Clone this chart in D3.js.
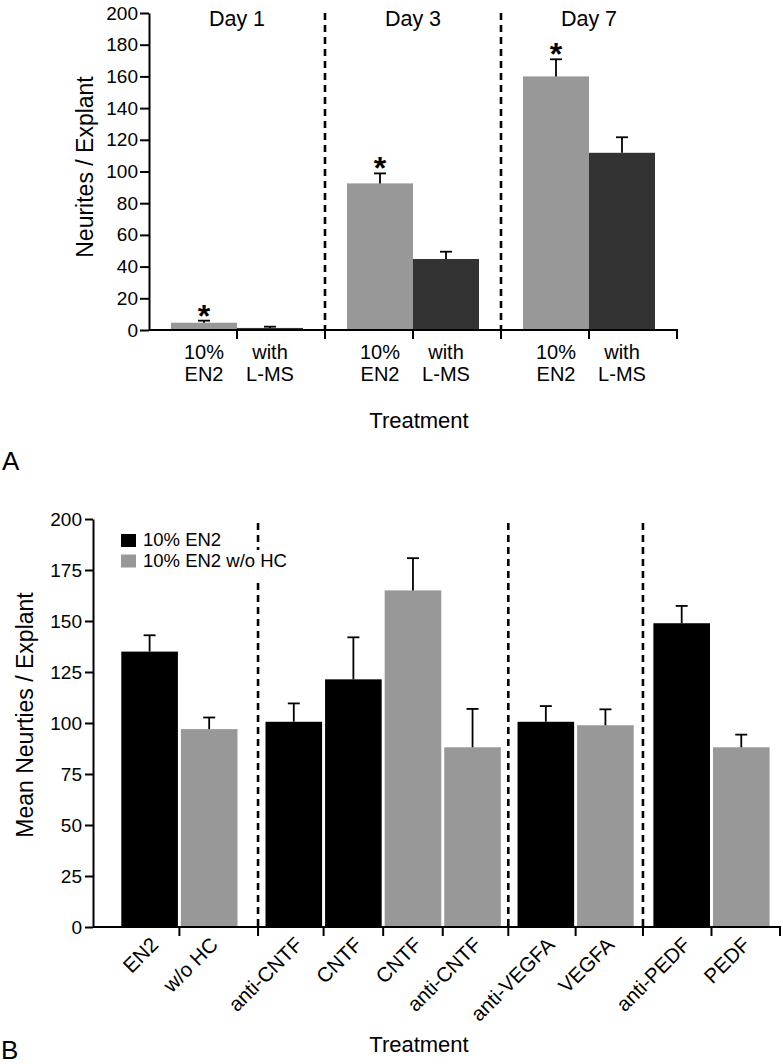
<!DOCTYPE html>
<html><head><meta charset="utf-8">
<script src="https://cdn.jsdelivr.net/npm/d3@7"></script>
<style>
body{margin:0;background:#fff;}
text{font-family:"Liberation Sans",Arial,Helvetica,sans-serif;fill:#000;}
</style></head>
<body><svg id="c" width="783" height="1064"></svg>
<script>
// ---------- Panel A data ----------
const daysA = ["Day 1", "Day 3", "Day 7"];
const seriesA = ["10% EN2", "with L-MS"];
const labelsA = [["10%", "EN2"], ["with", "L-MS"]];
const en2A = [4.6, 92.5, 160];
const en2ErrA = [1.3, 6.3, 10.8];
const lmsA = [1.3, 44.8, 111.8];
const lmsErrA = [0.8, 4.6, 9.8];
const sigA = [true, true, true];
const ticksA = [0, 20, 40, 60, 80, 100, 120, 140, 160, 180, 200];

// ---------- Panel B data ----------
const catsB = ["EN2", "w/o HC", "anti-CNTF", "CNTF", "CNTF", "anti-CNTF", "anti-VEGFA", "VEGFA", "anti-PEDF", "PEDF"];
const seriesB = ["10% EN2", "10% EN2 w/o HC"];
const serB = [0, 1, 0, 0, 1, 1, 0, 1, 0, 1];
const groupB = [0, 0, 1, 1, 1, 1, 2, 2, 3, 3];
const meansB = [135, 97, 100.6, 121.4, 165, 88.1, 100.6, 98.9, 148.9, 88.1];
const errB = [8, 5.7, 9, 20.6, 15.8, 18.8, 7.7, 7.8, 8.5, 6.2];
const ticksB = [0, 25, 50, 75, 100, 125, 150, 175, 200];

const svg = d3.select("#c");
const colA = ["#989898", "#333333"];
const colB = ["#000000", "#989898"];

// ================= Panel A =================
(function(){
  const left = 149, right = 677, top = 13, bottom = 330;
  const y = d3.scaleLinear().domain([0, 200]).range([bottom, top]);
  const xg = d3.scaleBand().domain(daysA).range([left, right]).paddingInner(0).paddingOuter(0);
  const xs = d3.scaleBand().domain(seriesA).range([0, xg.bandwidth() * 0.75]);
  const off = xg.bandwidth() * 0.125;
  const g = svg.append("g");

  daysA.slice(1).forEach(d => {
    g.append("line").attr("x1", xg(d)).attr("x2", xg(d)).attr("y1", top).attr("y2", bottom)
      .attr("stroke", "#000").attr("stroke-width", 2.6).attr("stroke-dasharray", "7,5");
  });

  const rows = [];
  daysA.forEach((d, i) => {
    rows.push({d, s: seriesA[0], si: 0, v: en2A[i], e: en2ErrA[i], sig: sigA[i]});
    rows.push({d, s: seriesA[1], si: 1, v: lmsA[i], e: lmsErrA[i], sig: false});
  });
  rows.forEach(r => {
    const x0 = xg(r.d) + off + xs(r.s), w = xs.bandwidth(), cx = x0 + w / 2;
    g.append("rect").attr("x", x0).attr("y", y(r.v)).attr("width", w).attr("height", y(0) - y(r.v)).attr("fill", colA[r.si]);
    g.append("line").attr("x1", cx).attr("x2", cx).attr("y1", y(r.v)).attr("y2", y(r.v + r.e)).attr("stroke", "#000").attr("stroke-width", 1.8);
    g.append("line").attr("x1", cx - 6).attr("x2", cx + 6).attr("y1", y(r.v + r.e)).attr("y2", y(r.v + r.e)).attr("stroke", "#000").attr("stroke-width", 1.8);
    if (r.sig) g.append("text").attr("x", cx).attr("y", y(r.v + r.e) + 6).attr("text-anchor", "middle")
      .attr("font-size", 32).attr("font-weight", "bold").text("*");
    labelsA[r.si].forEach((t, k) => {
      g.append("text").attr("x", cx).attr("y", 359 + k * 22).attr("text-anchor", "middle").attr("font-size", 20).text(t);
    });
  });

  daysA.forEach(d => {
    g.append("text").attr("x", xg(d) + xg.bandwidth() / 2).attr("y", 26).attr("text-anchor", "middle").attr("font-size", 21.5).text(d);
  });

  const ya = g.append("g").attr("transform", `translate(${left},0)`)
    .call(d3.axisLeft(y).tickValues(ticksA).tickSize(9).tickPadding(2).tickSizeOuter(0));
  ya.select(".domain").attr("stroke-width", 2);
  ya.selectAll(".tick line").attr("stroke-width", 2);
  ya.selectAll("text").attr("font-size", 19).attr("font-family", '"Liberation Sans",Arial,sans-serif');

  g.append("line").attr("x1", left).attr("x2", right + 1).attr("y1", bottom).attr("y2", bottom).attr("stroke", "#000").attr("stroke-width", 2);
  daysA.forEach(d => {
    [xg(d) + xg.bandwidth() / 2, xg(d) + xg.bandwidth()].forEach(tx => {
      g.append("line").attr("x1", tx).attr("x2", tx).attr("y1", bottom).attr("y2", bottom + 9).attr("stroke", "#000").attr("stroke-width", 2);
    });
  });

  g.append("text").attr("transform", "translate(93,167) rotate(-90)").attr("text-anchor", "middle").attr("font-size", 23).text("Neurites / Explant");
  g.append("text").attr("x", 419).attr("y", 428).attr("text-anchor", "middle").attr("font-size", 22).text("Treatment");
  g.append("text").attr("x", 2).attr("y", 470).attr("font-size", 26).text("A");
})();

// ================= Panel B =================
(function(){
  const left = 93, right = 780, top = 519, bottom = 927;
  const y = d3.scaleLinear().domain([0, 200]).range([bottom, top]);
  const groupPads = [[0.45, 0.32], [0.1, 0.1], [0.13, 0.13], [0.15, 0.15]];
  const nG = d3.max(groupB) + 1;
  let u = 0; const slotStart = [], gEnd = [];
  for (let gi = 0; gi < nG; gi++) {
    u += groupPads[gi][0];
    groupB.forEach((gg, i) => { if (gg === gi) { slotStart[i] = u; u += 1; } });
    u += groupPads[gi][1];
    gEnd.push(u);
  }
  const x = d3.scaleLinear().domain([0, u]).range([left, right]);
  const g = svg.append("g");
  const bw = 0.95;

  gEnd.slice(0, -1).forEach(e => {
    g.append("line").attr("x1", x(e)).attr("x2", x(e)).attr("y1", 523).attr("y2", bottom)
      .attr("stroke", "#000").attr("stroke-width", 2.6).attr("stroke-dasharray", "7,5");
  });

  catsB.forEach((c, i) => {
    const x0 = x(slotStart[i] + (1 - bw) / 2), w = x(bw) - x(0), cx = x(slotStart[i] + 0.5);
    g.append("rect").attr("x", x0).attr("y", y(meansB[i])).attr("width", w).attr("height", y(0) - y(meansB[i])).attr("fill", colB[serB[i]]);
    g.append("line").attr("x1", cx).attr("x2", cx).attr("y1", y(meansB[i])).attr("y2", y(meansB[i] + errB[i])).attr("stroke", "#000").attr("stroke-width", 1.8);
    g.append("line").attr("x1", cx - 6).attr("x2", cx + 6).attr("y1", y(meansB[i] + errB[i])).attr("y2", y(meansB[i] + errB[i])).attr("stroke", "#000").attr("stroke-width", 1.8);
    g.append("text").attr("transform", `translate(${cx + 10},${bottom + 19}) rotate(-45)`).attr("text-anchor", "end").attr("font-size", 20.5).text(c);
  });

  const ya = g.append("g").attr("transform", `translate(${left},0)`)
    .call(d3.axisLeft(y).tickValues(ticksB).tickSize(8).tickPadding(3).tickSizeOuter(0));
  ya.select(".domain").attr("stroke-width", 2);
  ya.selectAll(".tick line").attr("stroke-width", 2);
  ya.selectAll("text").attr("font-size", 19).attr("font-family", '"Liberation Sans",Arial,sans-serif');

  g.append("line").attr("x1", left).attr("x2", right + 1).attr("y1", bottom).attr("y2", bottom).attr("stroke", "#000").attr("stroke-width", 2);
  const tickU = [];
  catsB.forEach((c, i) => { if (i < catsB.length - 1 && groupB[i] === groupB[i + 1]) tickU.push(slotStart[i] + 1); });
  gEnd.forEach(e => tickU.push(e));
  tickU.forEach(t => {
    g.append("line").attr("x1", x(t)).attr("x2", x(t)).attr("y1", bottom).attr("y2", bottom + 9).attr("stroke", "#000").attr("stroke-width", 2);
  });

  // legend (white backdrop hides the dashed line behind the text, as in the original)
  g.append("rect").attr("x", 240).attr("y", 550).attr("width", 66).attr("height", 32).attr("fill", "#fff");
  seriesB.forEach((s, k) => {
    g.append("rect").attr("x", 121).attr("y", 534 + k * 20.5).attr("width", 15).attr("height", 13).attr("fill", colB[k]);
    g.append("text").attr("x", 143).attr("y", 546 + k * 21).attr("font-size", 18.5).text(s);
  });

  g.append("text").attr("transform", "translate(33,715) rotate(-90)").attr("text-anchor", "middle").attr("font-size", 23).text("Mean Neurties / Explant");
  g.append("text").attr("x", 419).attr("y", 1052).attr("text-anchor", "middle").attr("font-size", 22).text("Treatment");
  g.append("text").attr("x", 1).attr("y", 1059).attr("font-size", 26).text("B");
})();
</script></body></html>
